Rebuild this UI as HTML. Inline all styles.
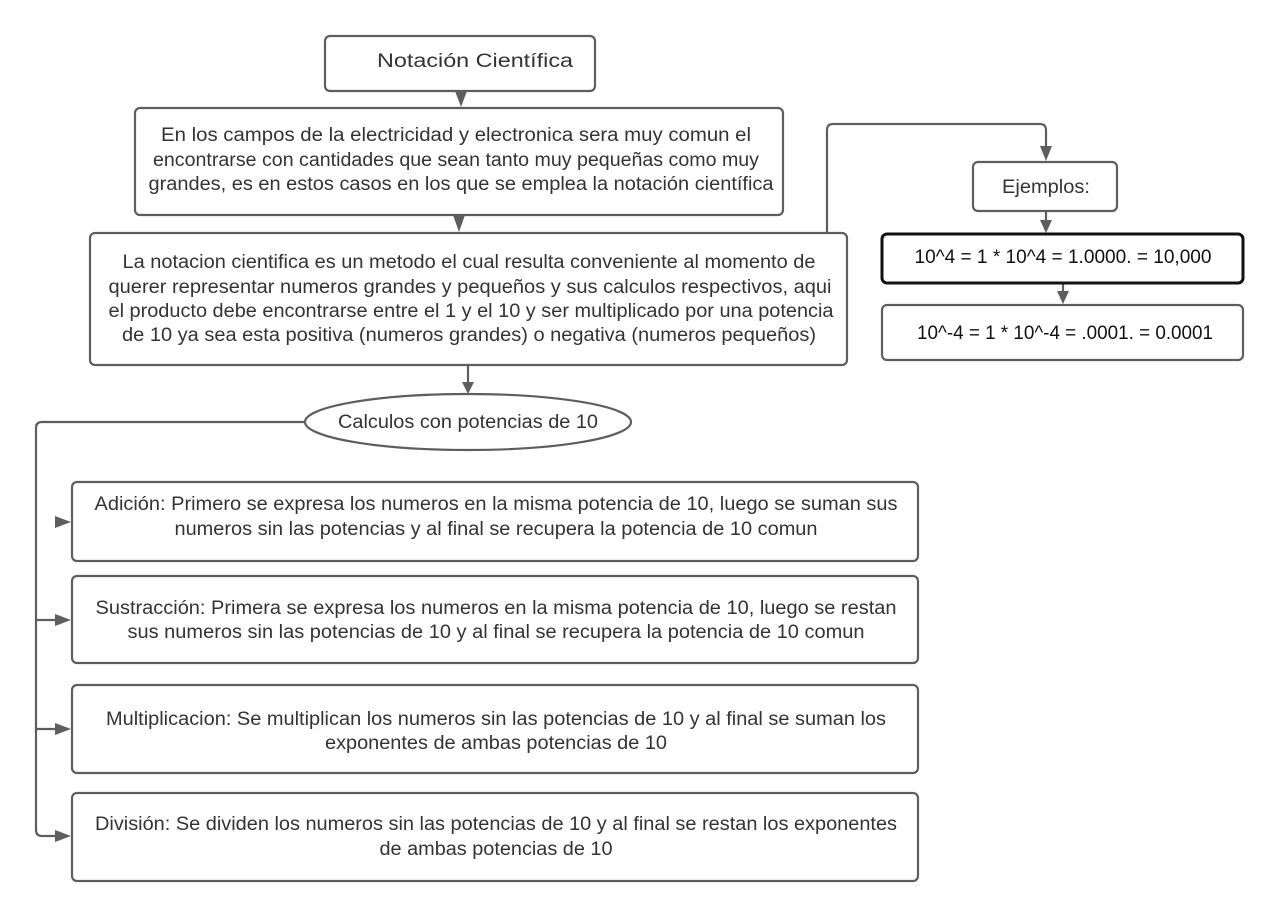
<!DOCTYPE html>
<html><head><meta charset="utf-8"><style>
html,body{margin:0;padding:0;background:#fff;}
svg{display:block;}
text{font-family:"Liberation Sans",sans-serif;font-size:19px;fill:#333;text-anchor:middle;}
</style></head><body>
<svg width="1280" height="918" viewBox="0 0 1280 918" xmlns="http://www.w3.org/2000/svg">
<g fill="none" stroke="#5e5e5e" stroke-width="2.2">
<rect x="325" y="36" width="270" height="55" rx="5"/>
<rect x="135" y="108" width="648" height="107" rx="5"/>
<rect x="90" y="233" width="757" height="132" rx="5"/>
<ellipse cx="468" cy="422" rx="163" ry="28"/>
<rect x="973" y="162" width="144" height="49" rx="5"/>
<rect x="72" y="482" width="846" height="79" rx="5"/>
<rect x="72" y="576" width="846" height="87" rx="5"/>
<rect x="72" y="685" width="846" height="88" rx="5"/>
<rect x="72" y="793" width="846" height="88" rx="5"/>
<rect x="882" y="305" width="361" height="55" rx="5"/>
<path d="M468 365 V384"/>
<path d="M305 422 H42 Q36 422 36 428 V830 Q36 836 42 836 H60"/>
<path d="M36 620 H60 M36 729 H60"/>
<path d="M827 233 V130 Q827 124 833 124 H1040 Q1046 124 1046 130 V148"/>
<path d="M1046 211 V222 M1063 283 V293"/>
</g>
<rect x="882" y="234" width="361" height="49" rx="5" fill="none" stroke="#111" stroke-width="3"/>
<g fill="#5e5e5e">
<polygon points="455,91 467,91 461,107"/>
<polygon points="453,215 465,215 459,232"/>
<polygon points="462,382 474,382 468,394"/>
<polygon points="1040,146 1052,146 1046,161"/>
<polygon points="1040,220 1052,220 1046,233"/>
<polygon points="1057,291 1069,291 1063,304"/>
<polygon points="55,516 55,528 71,522"/>
<polygon points="55,614 55,626 71,620"/>
<polygon points="55,723 55,735 71,729"/>
<polygon points="55,830 55,842 71,836"/>
</g>
<text x="475" y="67" textLength="196" lengthAdjust="spacingAndGlyphs">Notación Científica</text>
<text x="456" y="141" textLength="590" lengthAdjust="spacingAndGlyphs">En los campos de la electricidad y electronica sera muy comun el</text>
<text x="456" y="166" textLength="606" lengthAdjust="spacingAndGlyphs">encontrarse con cantidades que sean tanto muy pequeñas como muy</text>
<text x="461" y="190" textLength="625" lengthAdjust="spacingAndGlyphs">grandes, es en estos casos en los que se emplea la notación científica</text>
<text x="469" y="268" textLength="693" lengthAdjust="spacingAndGlyphs">La notacion cientifica es un metodo el cual resulta conveniente al momento de</text>
<text x="470" y="293" textLength="723" lengthAdjust="spacingAndGlyphs">querer representar numeros grandes y pequeños y sus calculos respectivos, aqui</text>
<text x="471" y="317" textLength="725" lengthAdjust="spacingAndGlyphs">el producto debe encontrarse entre el 1 y el 10 y ser multiplicado por una potencia</text>
<text x="469" y="341" textLength="694" lengthAdjust="spacingAndGlyphs">de 10 ya sea esta positiva (numeros grandes) o negativa (numeros pequeños)</text>
<text x="468" y="428" textLength="260" lengthAdjust="spacingAndGlyphs">Calculos con potencias de 10</text>
<text x="1046" y="193" textLength="88" lengthAdjust="spacingAndGlyphs">Ejemplos:</text>
<text x="1063" y="263" textLength="297" lengthAdjust="spacingAndGlyphs" style="fill:#111">10^4 = 1 * 10^4 = 1.0000. = 10,000</text>
<text x="1065" y="339" textLength="296" lengthAdjust="spacingAndGlyphs" style="fill:#111">10^-4 = 1 * 10^-4 = .0001. = 0.0001</text>
<text x="496" y="510" textLength="803" lengthAdjust="spacingAndGlyphs">Adición: Primero se expresa los numeros en la misma potencia de 10, luego se suman sus</text>
<text x="496" y="535" textLength="643" lengthAdjust="spacingAndGlyphs">numeros sin las potencias y al final se recupera la potencia de 10 comun</text>
<text x="496" y="614" textLength="801" lengthAdjust="spacingAndGlyphs">Sustracción: Primera se expresa los numeros en la misma potencia de 10, luego se restan</text>
<text x="496" y="638" textLength="737" lengthAdjust="spacingAndGlyphs">sus numeros sin las potencias de 10 y al final se recupera la potencia de 10 comun</text>
<text x="496" y="725" textLength="780" lengthAdjust="spacingAndGlyphs">Multiplicacion: Se multiplican los numeros sin las potencias de 10 y al final se suman los</text>
<text x="496" y="749" textLength="342" lengthAdjust="spacingAndGlyphs">exponentes de ambas potencias de 10</text>
<text x="496" y="830" textLength="802" lengthAdjust="spacingAndGlyphs">División: Se dividen los numeros sin las potencias de 10 y al final se restan los exponentes</text>
<text x="496" y="855" textLength="233" lengthAdjust="spacingAndGlyphs">de ambas potencias de 10</text>
</svg>
</body></html>
